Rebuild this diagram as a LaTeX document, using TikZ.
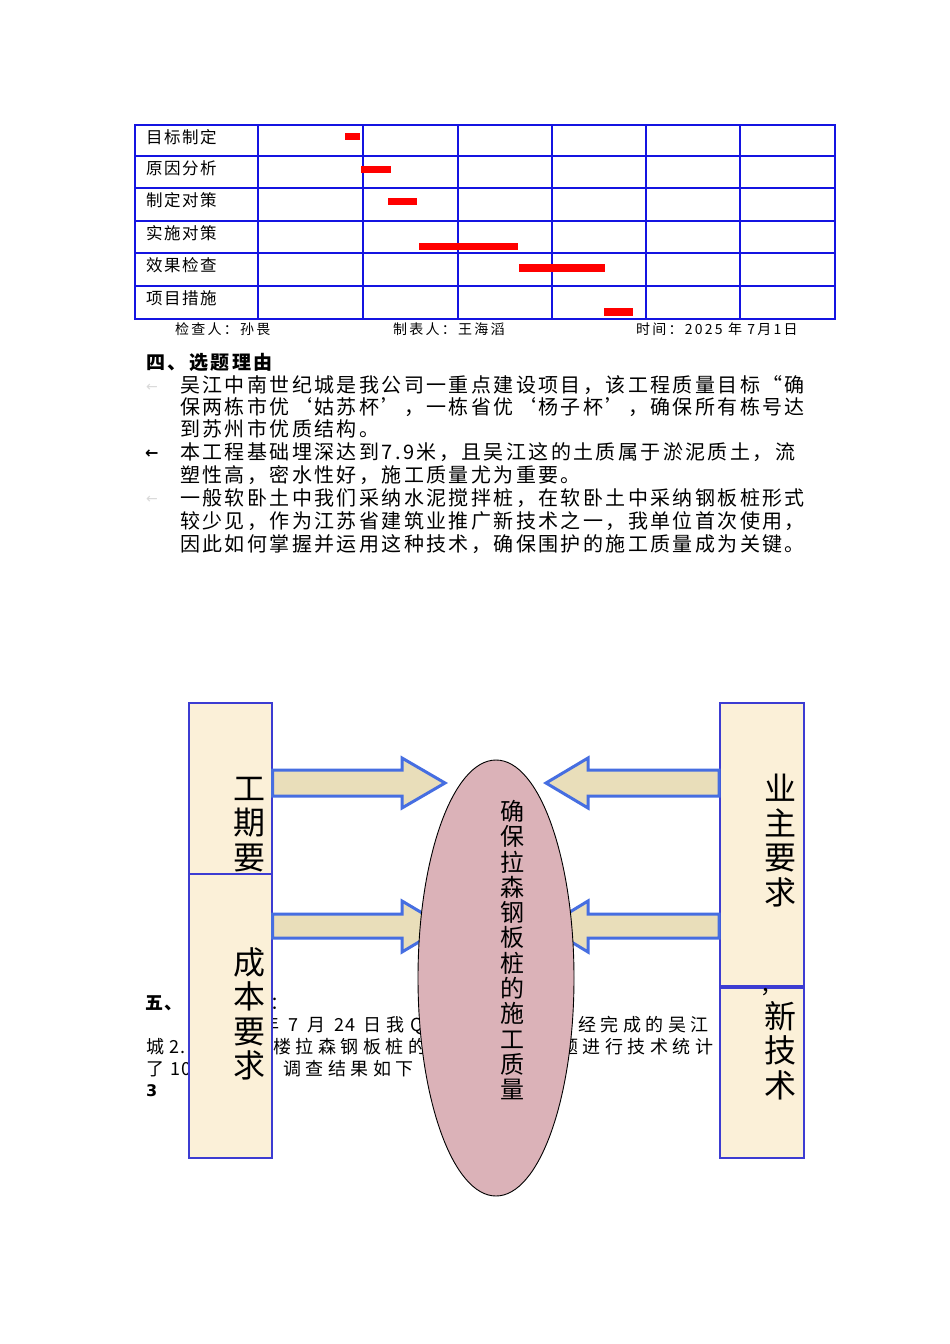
\documentclass[tikz,border=0pt]{standalone}
\usepackage{fontspec}
\usetikzlibrary{shapes.geometric}
\newfontfamily\cjk{Noto Sans CJK SC}
\newfontfamily\cjkT{Noto Sans CJK SC}[LetterSpace=9]
\newfontfamily\cjkF{Noto Sans CJK SC}[LetterSpace=16]
\newfontfamily\cjkH{Noto Sans CJK SC}[LetterSpace=13]
\newfontfamily\cjkP{Noto Sans CJK SC}[LetterSpace=12]
\newfontfamily\cjkQ{Noto Sans CJK SC}[LetterSpace=25]
\newfontfamily\cjkR{Noto Sans CJK SC}[LetterSpace=10]
\newfontfamily\symfont{DejaVu Sans}
\definecolor{tblue}{RGB}{20,20,225}
\definecolor{barred}{RGB}{255,0,0}
\definecolor{boxfill}{RGB}{251,240,216}
\definecolor{boxline}{RGB}{60,60,210}
\definecolor{arrfill}{RGB}{233,222,186}
\definecolor{arrline}{RGB}{70,110,225}
\definecolor{pinkc}{RGB}{219,178,184}
\begin{document}
\begin{tikzpicture}[x=1pt,y=-1pt,
  tline/.style={draw=tblue,line width=2.2pt},
  bar/.style={fill=barred,draw=none},
  lbl/.style={anchor=base west,inner sep=0,font=\fontsize{16.5pt}{16.5pt}\cjkT},
  foot/.style={anchor=base west,inner sep=0,font=\fontsize{14pt}{14pt}\cjkF},
  para/.style={anchor=base west,inner sep=0,font=\fontsize{20pt}{20pt}\cjkP},
  low/.style={anchor=base west,inner sep=0,font=\fontsize{18pt}{18pt}\cjkQ},
  lowr/.style={anchor=base west,inner sep=0,font=\fontsize{18pt}{18pt}\cjkR},
  larr/.style={anchor=base west,inner sep=0,font=\fontsize{14pt}{14pt}\symfont},
  rbox/.style={draw=boxline,line width=1.5pt,fill=boxfill,inner sep=0,anchor=north west},
  vtext/.style={anchor=north,inner sep=0,align=center,font=\fontsize{32pt}{34.5pt}\selectfont\cjk},
  barrow/.style={draw=arrline,line width=3pt,fill=arrfill,line join=miter},
  etext/.style={anchor=north,inner sep=0,align=center,font=\fontsize{24pt}{25.3pt}\selectfont\cjk}]
\fill[white] (0,0) rectangle (950,1344);
\path[use as bounding box] (0,0) rectangle (950,1344);

% Gantt table
\draw[tline] (135,125) rectangle (835,319);
\foreach \yy in {156,188,221,253,286} \draw[tline] (135,\yy) -- (835,\yy);
\foreach \xx in {258,363,458,552,646,740} \draw[tline] (\xx,125) -- (\xx,319);
\fill[bar] (345,133) rectangle (360,140);
\fill[bar] (361,166) rectangle (391,173);
\fill[bar] (388,198) rectangle (417,205);
\fill[bar] (419,243) rectangle (518,250);
\fill[bar] (519,264) rectangle (605,272);
\fill[bar] (604,308) rectangle (633,316);
\node[lbl] (r1) at (146,143) {目标制定};
\node[lbl] (r2) at (146,174) {原因分析};
\node[lbl] (r3) at (146,206) {制定对策};
\node[lbl] (r4) at (146,239) {实施对策};
\node[lbl] (r5) at (146,271) {效果检查};
\node[lbl] (r6) at (146,304) {项目措施};
\node[foot] (f1) at (175,334) {检查人：孙畏};
\node[foot] (f2) at (393,334) {制表人：王海滔};
\node[foot] (f3) at (636,334) {时间：2025 年 7月1日};

% Section 4
\node[anchor=base west,inner sep=0,font=\fontsize{19pt}{19pt}\cjkH\bfseries] (h4) at (146,369) {四、选题理由};
\node[larr,text=black!15] (a1) at (146,391) {←};
\node[para] (p1) at (180,392) {吴江中南世纪城是我公司一重点建设项目，该工程质量目标“确};
\node[para] (p2) at (180,414) {保两栋市优‘姑苏杯’，一栋省优‘杨子杯’，确保所有栋号达};
\node[para] (p3) at (180,436) {到苏州市优质结构。};
\node[larr,font=\fontsize{16pt}{16pt}\symfont\bfseries] (a2) at (145,458) {←};
\node[para] (p4) at (180,459) {本工程基础埋深达到7.9米，且吴江这的土质属于淤泥质土，流};
\node[para] (p5) at (180,482) {塑性高，密水性好，施工质量尤为重要。};
\node[larr,text=black!15] (a3) at (146,503) {←};
\node[para] (p6) at (180,505) {一般软卧土中我们采纳水泥搅拌桩，在软卧土中采纳钢板桩形式};
\node[para] (p7) at (180,528) {较少见，作为江苏省建筑业推广新技术之一，我单位首次使用，};
\node[para] (p8) at (180,551) {因此如何掌握并运用这种技术，确保围护的施工质量成为关键。};

% Section 5 (partly hidden)
\node[anchor=base west,inner sep=0,font=\fontsize{18pt}{18pt}\cjkR\bfseries] (h5) at (145,1009) {五、};
\node[low] (q0) at (270,1009) {：};
\node[lowr] (q1) at (261,1031) {年\hspace{9pt}7\hspace{9pt}月\hspace{9pt}24\hspace{8pt}日\hspace{5pt}我\hspace{6pt}Q};
\node[low] (q2) at (578,1031) {经完成的吴江};
\node[lowr] (q3) at (146,1053) {城\hspace{5pt}2.};
\node[low] (q4) at (273,1053) {楼拉森钢板桩的};
\node[low] (q5) at (560,1053) {题进行技术统计};
\node[lowr] (q6) at (146,1075) {了\hspace{6pt}10};
\node[low] (q7) at (283,1075) {调查结果如下};
\node[anchor=base west,inner sep=0,font=\fontsize{16pt}{16pt}\symfont\bfseries] (q8) at (146,1096) {3};

% Boxes
\node[rbox,minimum width=83,minimum height=171] (gq) at (188,702) {};
\node[vtext] (tgq) at (249,777) {工\\期\\要};
\node[rbox,minimum width=83,minimum height=284] (cb) at (188,873) {};
\node[vtext] (tcb) at (249,947) {成\\本\\要\\求};
\node[rbox,minimum width=84,minimum height=283] (yz) at (719,702) {};
\node[vtext] (tyz) at (780,774) {业\\主\\要\\求};
\node[rbox,minimum width=84,minimum height=170] (xj) at (719,987) {};
\node[anchor=base west,inner sep=0,font=\fontsize{22pt}{22pt}\selectfont\cjk] (cm) at (760,993) {，};
\node[vtext] (txj) at (780,1001) {新\\技\\术};

% Block arrows
\draw[barrow] (gq.east |- 0,770) -- (402,770) -- (402,758) -- (445,783) -- (402,808) -- (402,796) -- (gq.east |- 0,796) -- cycle;
\draw[barrow] (cb.east |- 0,914) -- (402,914) -- (402,901) -- (445,926.5) -- (402,952) -- (402,938) -- (cb.east |- 0,938) -- cycle;
\draw[barrow] (yz.west |- 0,770) -- (588,770) -- (588,758) -- (546,783) -- (588,808) -- (588,796) -- (yz.west |- 0,796) -- cycle;
\draw[barrow] (yz.west |- 0,914) -- (588,914) -- (588,901) -- (546,926.5) -- (588,952) -- (588,938) -- (yz.west |- 0,938) -- cycle;

% Central ellipse
\node[ellipse,draw=black,line width=0.9pt,fill=pinkc,minimum width=156,minimum height=436,inner sep=0] (el) at (496,978) {};
\node[etext] (tel) at (512,800) {确\\保\\拉\\森\\钢\\板\\桩\\的\\施\\工\\质\\量};
\end{tikzpicture}
\end{document}
